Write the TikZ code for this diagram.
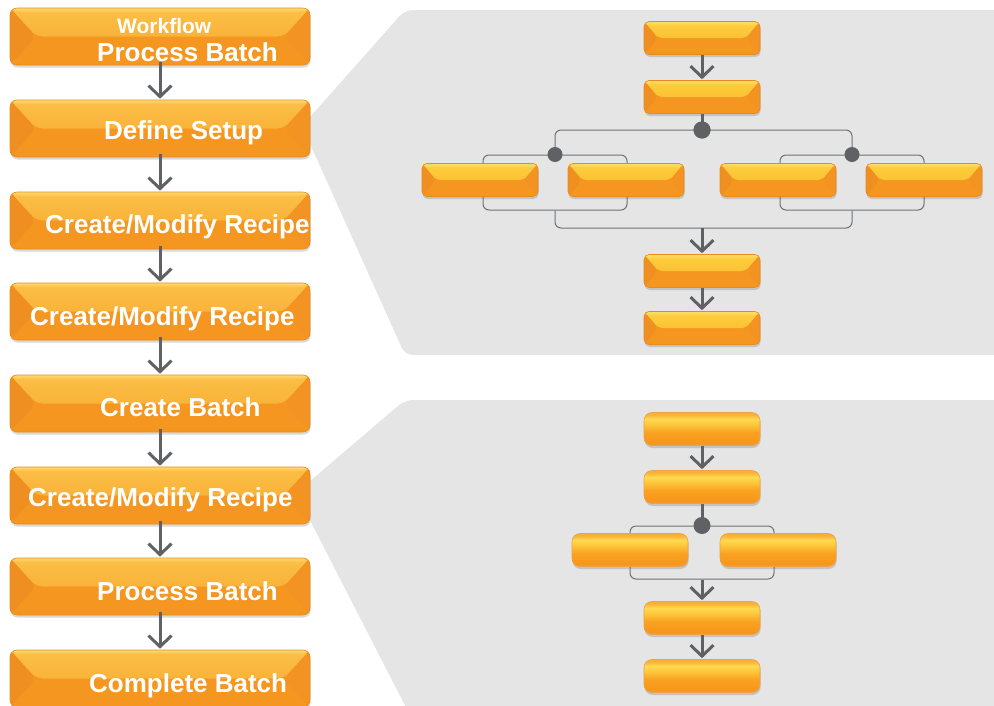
\documentclass[tikz,border=0pt]{standalone}
\usepackage{fontspec}
\setmainfont{Liberation Sans}
\usetikzlibrary{arrows.meta,shadows}

\definecolor{panelgray}{HTML}{E5E5E5}
\definecolor{linkgray}{HTML}{606165}
\definecolor{bracketgray}{HTML}{707174}
\definecolor{orbase}{HTML}{F4961F}
\definecolor{orleft}{HTML}{EF8F21}
\definecolor{orright}{HTML}{F29324}
\definecolor{bigtopA}{HTML}{FBC048}
\definecolor{bigtopB}{HTML}{F7A52B}
\definecolor{smalltopA}{HTML}{FDD03E}
\definecolor{smalltopB}{HTML}{FAB42A}
\definecolor{glint}{HTML}{FFE27A}
\definecolor{oredge}{HTML}{E98A1D}
\definecolor{pillA}{HTML}{EFA035}
\definecolor{pillB}{HTML}{F7961B}
\definecolor{pillC}{HTML}{F9A221}
\definecolor{pillD}{HTML}{FDC43A}
\definecolor{pillE}{HTML}{FFDA50}
\definecolor{pillF}{HTML}{F8B136}

% soft, glossy fill for the rounded bars of the lower flow
\pgfdeclareverticalshading{pillshade}{100bp}{%
  color(0bp)=(pillA); color(25bp)=(pillA); color(29bp)=(pillB);
  color(45bp)=(pillC); color(56bp)=(pillD); color(65bp)=(pillE);
  color(72bp)=(pillF); color(75bp)=(pillF); color(100bp)=(pillF)}

% bevelled faces of a bar: light top face, darker left and right facets,
% thin glint along the top edge
% #1 = bevel inset, #2/#3 = top face colours
\newcommand\barbevel[3]{%
  \shade[top color=#2, bottom color=#3]
    (path picture bounding box.north west) -- (path picture bounding box.north east)
    -- ([xshift=-#1]path picture bounding box.east) -- ([xshift=#1]path picture bounding box.west) -- cycle;
  \fill[orleft] (path picture bounding box.north west)
    -- ([xshift=#1]path picture bounding box.west) -- (path picture bounding box.south west) -- cycle;
  \fill[orright] (path picture bounding box.north east)
    -- ([xshift=-#1]path picture bounding box.east) -- (path picture bounding box.south east) -- cycle;
  \shade[top color=glint, bottom color=#2, opacity=0.8]
    (path picture bounding box.north west) rectangle ([yshift=-4pt]path picture bounding box.north east);
}

\tikzset{
  barshadow/.style={drop shadow={shadow xshift=0.6pt, shadow yshift=-2.5pt, opacity=0.22, fill=black!70}},
  bigbar/.style={rectangle, rounded corners=7pt, minimum width=300pt, minimum height=57pt,
    inner sep=0pt, fill=orbase, draw=oredge, line width=0.6pt, barshadow,
    path picture={\barbevel{26pt}{bigtopA}{bigtopB}}},
  smallbar/.style={rectangle, rounded corners=5pt, minimum width=116pt, minimum height=33pt,
    inner sep=0pt, fill=orbase, draw=oredge, line width=0.6pt, barshadow,
    path picture={\barbevel{14pt}{smalltopA}{smalltopB}}},
  pillbar/.style={rectangle, rounded corners=8pt, minimum width=116pt, minimum height=33pt,
    inner sep=0pt, shade, shading=pillshade, draw=oredge!80, line width=0.6pt, barshadow},
  flow/.style={draw=linkgray, line width=3pt, -{Straight Barb[length=11pt,width=23pt]}, shorten >=1pt},
  stub/.style={draw=linkgray, line width=3pt},
  bracket/.style={draw=bracketgray, line width=1pt, rounded corners=6pt},
  bracketbox/.style={rectangle, draw=bracketgray, line width=1pt, rounded corners=6pt, inner sep=0pt},
  forkdot/.style={circle, fill=linkgray, inner sep=0pt, minimum size=#1},
  forkdot/.default=17pt,
  lbl/.style={text=white, font=\bfseries\fontsize{26}{26}\selectfont, inner sep=0pt, anchor=base west},
}

\begin{document}
\begin{tikzpicture}[x=1pt,y=-1pt]
\useasboundingbox (0,0) rectangle (994,705);

% grey detail panels fanning out from the steps
\fill[panelgray, rounded corners=8pt]
  (1010,10) -- (405,10) -- (302,126) -- (405,355) -- (1010,355) -- cycle;
\fill[panelgray, rounded corners=8pt]
  (1010,400) -- (405,400) -- (296,493) -- (415,725) -- (1010,725) -- cycle;

% ---- main workflow column ----
\node[bigbar] (L1) at (160,36.5) {};
\node[bigbar] (L2) at (160,128.5) {};
\node[bigbar] (L3) at (160,220.5) {};
\node[bigbar] (L4) at (160,311.5) {};
\node[bigbar] (L5) at (160,403.5) {};
\node[bigbar] (L6) at (160,495.5) {};
\node[bigbar] (L7) at (160,586.5) {};
\node[bigbar] (L8) at (160,678.5) {};

\foreach \a/\b in {L1/L2,L2/L3,L3/L4,L4/L5,L5/L6,L6/L7,L7/L8}
  \draw[flow] ([yshift=3pt]\a.south) -- (\b.north);

\node[lbl, font=\bfseries\fontsize{21}{21}\selectfont] (w0) at (117,33) {Workflow};
\node[lbl] (x1) at (97,61)  {Process Batch};
\node[lbl] (x2) at (104,139) {Define Setup};
\node[lbl] (x3) at (45,233)  {Create/Modify Recipe};
\node[lbl] (x4) at (30,325)  {Create/Modify Recipe};
\node[lbl] (x5) at (100,416) {Create Batch};
\node[lbl] (x6) at (28,506)  {Create/Modify Recipe};
\node[lbl] (x7) at (97,600)  {Process Batch};
\node[lbl] (x8) at (89,692)  {Complete Batch};

% ---- upper detail: nested fork / join ----
\node[bracketbox, minimum width=144pt, minimum height=55pt] (lgrp) at (555,182.5) {};
\node[bracketbox, minimum width=144pt, minimum height=55pt] (rgrp) at (852,182.5) {};
\coordinate (tjoin) at (702,228);
\node[forkdot] (tdot) at (702,130) {};
\draw[bracket] (lgrp.north) |- (tdot.center) -| (rgrp.north);
\draw[bracket] (lgrp.south) |- (tjoin) -| (rgrp.south);

\node[smallbar] (t1) at (702,38) {};
\node[smallbar] (t2) at (702,97) {};
\node[smallbar] (tl1) at (480,180) {};
\node[smallbar] (tl2) at (626,180) {};
\node[smallbar] (tr1) at (778,180) {};
\node[smallbar] (tr2) at (924,180) {};
\node[smallbar] (t3) at (702,271) {};
\node[smallbar] (t4) at (702,328) {};

\draw[flow] (t1.south) -- (t2.north);
\draw[stub] (t2.south) -- (tdot.center);
\node[forkdot] at (tdot) {};
\node[forkdot=15pt] (ldot) at (lgrp.north) {};
\node[forkdot=15pt] (rdot) at (rgrp.north) {};
\draw[flow] (tjoin) -- (t3.north);
\draw[flow] (t3.south) -- (t4.north);

% ---- lower detail: single fork / join ----
\node[bracketbox, minimum width=144pt, minimum height=53pt] (bgrp) at (702,552.5) {};
\node[pillbar] (b1) at (702,429) {};
\node[pillbar] (b2) at (702,487) {};
\node[pillbar] (bl) at (630,550) {};
\node[pillbar] (br) at (778,550) {};
\node[pillbar] (b3) at (702,618) {};
\node[pillbar] (b4) at (702,676) {};

\draw[flow] (b1.south) -- (b2.north);
\draw[stub] (b2.south) -- (bgrp.north);
\node[forkdot] (bdot) at (bgrp.north) {};
\draw[flow] (bgrp.south) -- (b3.north);
\draw[flow] (b3.south) -- (b4.north);
\end{tikzpicture}
\end{document}
